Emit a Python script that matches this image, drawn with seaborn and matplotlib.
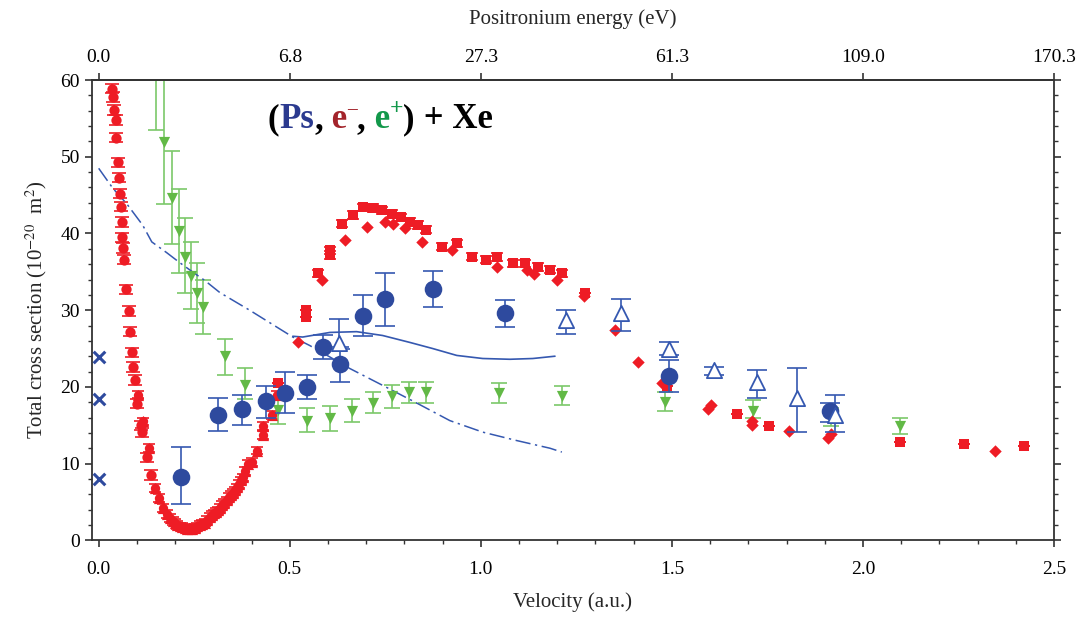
import numpy as np
import pandas as pd
import matplotlib
matplotlib.use("Agg")
import matplotlib.pyplot as plt
import matplotlib.transforms as mtransforms
from matplotlib.ticker import MultipleLocator
import seaborn as sns

# ---- data (velocity in a.u., cross section in 1e-20 m^2) ----
red_circ_v = [0.034, 0.037, 0.039, 0.045, 0.045, 0.050, 0.052, 0.055, 0.058, 0.060, 0.060, 0.063,
              0.065, 0.071, 0.079, 0.081, 0.086, 0.089, 0.094, 0.099, 0.110, 0.113, 0.126, 0.136]
red_circ_y = [58.9, 57.8, 56.1, 54.8, 52.5, 49.3, 47.3, 45.2, 43.5, 41.5, 39.5, 38.1,
              36.6, 32.7, 29.9, 27.2, 24.5, 22.6, 20.9, 17.8, 15.0, 14.1, 10.8, 8.5]

red_tri_v = [0.104, 0.115, 0.131, 0.147, 0.157, 0.168, 0.178, 0.186, 0.194, 0.199, 0.206, 0.212,
             0.219, 0.225, 0.232, 0.238, 0.245, 0.251, 0.258, 0.264, 0.270, 0.277, 0.284, 0.291,
             0.296, 0.301, 0.306, 0.312, 0.317, 0.322, 0.328, 0.335, 0.340, 0.346, 0.351, 0.356,
             0.361, 0.366, 0.372, 0.377, 0.383, 0.390, 0.402, 0.414, 0.429, 0.429, 0.453, 0.466]
red_tri_y = [19.0, 15.5, 12.0, 6.8, 5.5, 4.2, 3.4, 2.9, 2.5, 2.3, 2.0, 1.8,
             1.7, 1.6, 1.5, 1.5, 1.5, 1.6, 1.8, 2.0, 2.1, 2.3, 2.6, 3.0,
             3.3, 3.5, 3.7, 3.9, 4.2, 4.6, 4.9, 5.2, 5.6, 5.9, 6.2, 6.5,
             6.9, 7.3, 7.8, 8.2, 9.0, 10.0, 10.2, 11.7, 13.7, 14.9, 16.3, 18.9]

red_sq_v = [0.469, 0.542, 0.542, 0.573, 0.605, 0.605, 0.636, 0.665, 0.691, 0.717, 0.741, 0.767,
            0.791, 0.814, 0.835, 0.856, 0.898, 0.937, 0.976, 1.013, 1.042, 1.084, 1.115, 1.149,
            1.181, 1.212, 1.272, 1.487, 1.670, 1.754, 2.097, 2.264, 2.421]
red_sq_y = [20.5, 29.1, 30.0, 34.8, 37.8, 37.2, 41.3, 42.4, 43.4, 43.3, 43.0, 42.6,
            42.1, 41.5, 41.1, 40.5, 38.3, 38.7, 37.0, 36.6, 36.9, 36.1, 36.1, 35.6,
            35.3, 34.8, 32.2, 20.1, 16.4, 14.9, 12.8, 12.5, 12.3]

red_dia_v = [0.521, 0.584, 0.644, 0.702, 0.749, 0.770, 0.801, 0.846, 0.924, 1.042, 1.120, 1.139,
             1.199, 1.270, 1.351, 1.411, 1.474, 1.594, 1.602, 1.709, 1.709, 1.806, 1.908, 1.916,
             2.346]
red_dia_y = [25.8, 34.0, 39.1, 40.8, 41.5, 41.2, 40.7, 38.9, 37.8, 35.6, 35.2, 34.7,
             33.9, 31.8, 27.4, 23.3, 20.5, 17.1, 17.6, 15.0, 15.6, 14.3, 13.3, 13.9,
             11.6]

ps_v = [0.215, 0.312, 0.374, 0.437, 0.487, 0.544, 0.586, 0.631, 0.691, 0.749, 0.874, 1.063, 1.492, 1.914]
ps_y = [8.3, 16.3, 17.1, 18.1, 19.2, 20.0, 25.2, 23.0, 29.3, 31.4, 32.8, 29.6, 21.4, 16.8]
ps_hi = [12.1, 18.5, 19.0, 20.1, 21.9, 21.6, 26.7, 25.0, 32.0, 34.8, 35.1, 31.3, 23.5, 17.9]
ps_lo = [4.7, 14.2, 15.0, 16.0, 16.6, 18.4, 23.6, 20.7, 26.6, 28.0, 30.4, 27.8, 19.3, 15.4]

ps2_v = [0.628, 1.223, 1.366, 1.492, 1.610, 1.722, 1.827, 1.927]
ps2_y = [25.7, 28.7, 29.6, 25.0, 22.2, 20.6, 18.5, 16.3]
ps2_hi = [28.9, 30.0, 31.5, 25.8, 22.6, 22.2, 22.4, 19.0]
ps2_lo = [25.2, 26.9, 27.3, 24.2, 21.5, 18.6, 14.1, 14.1]

pos_v = [0.149, 0.170, 0.191, 0.209, 0.225, 0.241, 0.257, 0.272, 0.330, 0.382, 0.469, 0.544,
         0.605, 0.662, 0.717, 0.767, 0.811, 0.856, 1.047, 1.212, 1.482, 1.712, 1.916, 2.097]
pos_y = [64.0, 51.9, 44.6, 40.3, 37.0, 34.4, 32.2, 30.4, 24.0, 20.3, 17.0, 15.6,
         15.9, 16.8, 17.9, 18.8, 19.3, 19.3, 19.2, 18.8, 18.0, 16.9, 16.0, 14.9]
pos_hi = [70.0, 62.0, 50.8, 45.8, 42.0, 38.9, 36.2, 34.0, 26.3, 22.4, 18.6, 17.2,
          17.5, 18.4, 19.3, 20.2, 20.7, 20.7, 20.5, 20.1, 19.3, 18.3, 17.2, 16.0]
pos_lo = [53.5, 43.9, 38.6, 34.9, 32.2, 30.1, 28.3, 26.9, 21.6, 18.4, 15.1, 14.1,
          14.3, 15.4, 16.6, 17.3, 17.9, 17.9, 17.9, 17.6, 16.8, 15.9, 14.9, 13.9]

theory_v = [0.508, 0.534, 0.605, 0.675, 0.743, 0.814, 0.874, 0.937, 1.005, 1.076, 1.136, 1.194]
theory_y = [26.6, 26.5, 27.1, 27.2, 26.7, 25.8, 25.0, 24.1, 23.7, 23.6, 23.7, 24.0]

dashdot_v = [0.0, 0.037, 0.073, 0.115, 0.139, 0.178, 0.212, 0.251, 0.277, 0.317, 0.361, 0.395,
             0.466, 0.508, 0.552, 0.605, 0.657, 0.743, 0.832, 0.919, 1.005, 1.094, 1.181, 1.212]
dashdot_y = [48.5, 45.9, 43.9, 41.1, 38.9, 37.5, 36.2, 34.8, 33.9, 32.3, 31.0, 30.0,
             27.8, 26.5, 25.4, 23.9, 22.4, 20.2, 17.9, 15.6, 14.1, 13.0, 12.0, 11.5]

cross_v = [0.0, 0.0, 0.0]
cross_y = [23.9, 18.4, 8.0]

top_ticks = [0.0, 0.5, 1.0, 1.5, 2.0, 2.5]
top_labels = ["0.0", "6.8", "27.3", "61.3", "109.0", "170.3"]

RED = "#EE1C25"
BLUE = "#2E4A9E"
LINEBLUE = "#3558B0"
GREEN = "#62B946"
GREENBAR = "#7CC86A"

sns.set_style("ticks")
plt.rcParams["font.family"] = ["Liberation Serif", "DejaVu Serif"]
plt.rcParams["mathtext.fontset"] = "stix"

fig = plt.figure(figsize=(10.8, 6.21), dpi=100)
ax = fig.add_axes([0.085, 0.130, 0.891, 0.741])

# ---- electrons (red) ----
ax.errorbar(red_circ_v, red_circ_y, yerr=0.6, fmt="none", ecolor=RED, capsize=5, elinewidth=1.2,
            capthick=1.2, zorder=2)
sns.scatterplot(x=red_circ_v, y=red_circ_y, marker="o", color=RED, s=55, linewidth=0, ax=ax, zorder=3)
ax.errorbar(red_tri_v, red_tri_y, yerr=0.5, fmt="none", ecolor=RED, capsize=4, elinewidth=1.2,
            capthick=1.2, zorder=2)
sns.scatterplot(x=red_tri_v, y=red_tri_y, marker="^", color=RED, s=65, linewidth=0, ax=ax, zorder=3)
sns.scatterplot(x=red_tri_v, y=red_tri_y, marker="o", color=RED, s=45, linewidth=0, ax=ax, zorder=3)
sq_err = [0.5 if 0.57 < v < 1.25 else 0.0 for v in red_sq_v]
ax.errorbar(red_sq_v, red_sq_y, yerr=sq_err, fmt="none", ecolor=RED, capsize=4.5, elinewidth=1.2,
            capthick=1.2, zorder=2)
sns.scatterplot(x=red_sq_v, y=red_sq_y, marker="s", color=RED, s=42, linewidth=0, ax=ax, zorder=3)
sns.scatterplot(x=red_dia_v, y=red_dia_y, marker="D", color=RED, s=40, linewidth=0, ax=ax, zorder=3)

# ---- positrons (green) ----
pos_err = [np.array(pos_y) - np.array(pos_lo), np.array(pos_hi) - np.array(pos_y)]
ax.errorbar(pos_v, pos_y, yerr=pos_err, fmt="none", ecolor=GREENBAR, capsize=6, elinewidth=1.2,
            capthick=1.2, zorder=2)
sns.scatterplot(x=pos_v, y=pos_y, marker="v", color=GREEN, s=65, linewidth=0, ax=ax, zorder=3)

# ---- theory lines (blue) ----
sns.lineplot(x=dashdot_v, y=dashdot_y, color=LINEBLUE, linewidth=1.1, ax=ax, zorder=2,
             dashes=False, estimator=None, sort=False)
ax.lines[-1].set_dashes([10, 3, 1.5, 3])
sns.lineplot(x=theory_v, y=theory_y, color=LINEBLUE, linewidth=1.2, ax=ax, zorder=2,
             estimator=None, sort=False)

# ---- positronium (blue) ----
ps_err = [np.array(ps_y) - np.array(ps_lo), np.array(ps_hi) - np.array(ps_y)]
ax.errorbar(ps_v, ps_y, yerr=ps_err, fmt="none", ecolor=LINEBLUE, capsize=7, elinewidth=1.2,
            capthick=1.2, zorder=4)
sns.scatterplot(x=ps_v, y=ps_y, marker="o", color=BLUE, s=160, linewidth=0, ax=ax, zorder=5)
ps2_err = [np.array(ps2_y) - np.array(ps2_lo), np.array(ps2_hi) - np.array(ps2_y)]
ax.errorbar(ps2_v, ps2_y, yerr=ps2_err, fmt="none", ecolor=LINEBLUE, capsize=7, elinewidth=1.2,
            capthick=1.2, zorder=4)
sns.scatterplot(x=ps2_v, y=ps2_y, marker="^", color="white", edgecolor=LINEBLUE, s=120,
                linewidth=1.3, ax=ax, zorder=5)
sns.scatterplot(x=cross_v, y=cross_y, marker="x", color=BLUE, s=70, linewidth=2.2, ax=ax,
                zorder=5, clip_on=False)

# ---- axes ----
ax.set_xlim(-0.018, 2.5)
ax.set_ylim(0, 60)
ax.xaxis.set_major_locator(MultipleLocator(0.5))
ax.xaxis.set_minor_locator(MultipleLocator(0.1))
ax.yaxis.set_major_locator(MultipleLocator(10))
ax.yaxis.set_minor_locator(MultipleLocator(2))
ax.set_xticks([0.0, 0.5, 1.0, 1.5, 2.0, 2.5])
ax.set_xticklabels(["0.0", "0.5", "1.0", "1.5", "2.0", "2.5"])
ax.tick_params(axis="both", which="major", direction="out", length=5, width=1.2, labelsize=14,
               colors="#333333", labelcolor="black")
ax.tick_params(axis="both", which="minor", direction="out", length=3, width=1.0, colors="#333333")
ax.tick_params(axis="y", which="both", right=True)
ax.tick_params(axis="x", which="both", top=False)
ax.tick_params(axis="x", which="major", pad=10)
for sp in ax.spines.values():
    sp.set_linewidth(1.3)
    sp.set_color("#333333")
    sp.set_visible(True)

ax.set_xlabel("Velocity (a.u.)", fontsize=15, labelpad=10)
ax.set_ylabel("Total cross section (10$^{-20}$  m$^{2}$)", fontsize=15, labelpad=8)

ax2 = ax.twiny()
ax2.set_xlim(ax.get_xlim())
ax2.set_xticks(top_ticks)
ax2.set_xticklabels(top_labels)
ax2.tick_params(axis="x", direction="out", length=5, width=1.2, labelsize=14, pad=5,
                colors="#333333", labelcolor="black")
ax2.set_xlabel("Positronium energy (eV)", fontsize=15, labelpad=18)
for sp in ax2.spines.values():
    sp.set_visible(False)
ax2.spines["top"].set_visible(True)
ax2.spines["top"].set_linewidth(1.3)
ax2.spines["top"].set_color("#333333")

# ---- coloured heading "(Ps, e-, e+) + Xe" ----
r = fig.canvas.get_renderer()
x0, y0 = ax.transAxes.transform((0.183, 0.896))
pieces = [("(", "black", 25, 0), ("Ps", "#2B3A8F", 25, 0), (",", "black", 25, 0),
          (" e", "#A3242B", 25, 0), ("\u2013", "#A3242B", 14, 14), (",", "black", 25, 0),
          (" e", "#12984A", 25, 0), ("+", "#12984A", 17, 14), (")", "black", 25, 0),
          (" + Xe", "black", 25, 0)]
x = x0
for s, c, fs, dy in pieces:
    t = fig.text(x, y0 + dy, s, color=c, fontsize=fs, fontweight="bold", va="baseline",
                 ha="left", transform=mtransforms.IdentityTransform())
    x = t.get_window_extent(r).x1

fig.savefig("out.png", dpi=100)
